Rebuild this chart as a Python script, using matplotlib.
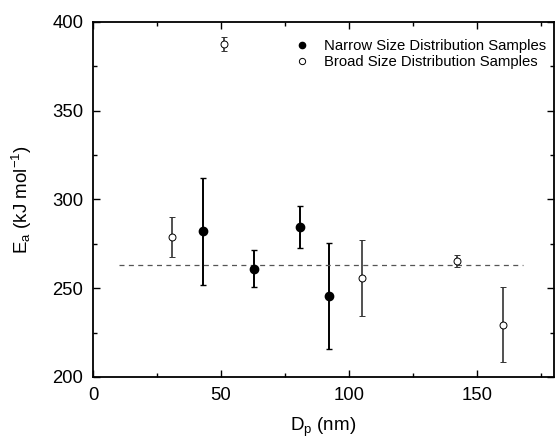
import matplotlib as mpl
import matplotlib.pyplot as plt
from matplotlib.lines import Line2D

mpl.rcParams['font.family'] = ['Liberation Sans', 'DejaVu Sans']
mpl.rcParams['mathtext.fontset'] = 'custom'
mpl.rcParams['mathtext.rm'] = 'Liberation Sans'
mpl.rcParams['mathtext.it'] = 'Liberation Sans'

# narrow size distribution samples
narrow_dp = [43, 63, 81, 92]
narrow_ea = [282, 261, 284.5, 245.5]
narrow_err = [30, 10.3, 12, 30]

# broad size distribution samples
broad_dp = [31, 51, 105, 142, 160]
broad_ea = [278.7, 387.5, 255.7, 265.4, 229.5]
broad_err = [11.3, 3.8, 21.2, 3.2, 21.2]

mean_ea = 263
mean_span = [10, 168]

fig = plt.figure(figsize=(5.55, 4.38), dpi=100)
ax = fig.add_axes([0.1676, 0.1393, 0.8306, 0.8105])

ax.errorbar(narrow_dp, narrow_ea, yerr=narrow_err, fmt='o', color='black',
            markersize=6, elinewidth=1.4, capsize=2.2, capthick=1.0)
ax.errorbar(broad_dp, broad_ea, yerr=broad_err, fmt='o', color='black',
            mfc='white', mec='black', mew=0.7, markersize=5, elinewidth=1.2,
            capsize=2.2, capthick=1.0, ecolor='#333333')
ax.plot(mean_span, [mean_ea, mean_ea], linestyle=(0, (4, 3.5)),
        color='#555555', linewidth=0.9)

ax.set_xlim(0, 180)
ax.set_ylim(200, 400)
ax.set_xticks([0, 50, 100, 150])
ax.set_xticks([25, 75, 125, 175], minor=True)
ax.set_yticks([200, 250, 300, 350, 400])
ax.set_yticks([225, 275, 325, 375], minor=True)

ax.tick_params(which='both', direction='in', top=True, right=True,
               labelsize=13.3, pad=7)
ax.tick_params(which='major', length=5, width=1.0)
ax.tick_params(which='minor', length=3, width=1.0)
for s in ax.spines.values():
    s.set_linewidth(1.3)

ax.set_xlabel('D$_\\mathrm{p}$ (nm)', fontsize=13.5, labelpad=9)
ax.set_ylabel('E$_\\mathrm{a}$ (kJ mol$^{-1}$)', fontsize=13.5, labelpad=13)

handles = [
    Line2D([], [], linestyle='none', marker='o', color='black', markersize=4.5),
    Line2D([], [], linestyle='none', marker='o', mfc='white', mec='black',
           mew=0.7, markersize=4.5),
]
labels = ['Narrow Size Distribution Samples', 'Broad Size Distribution Samples']
ax.legend(handles, labels, loc='upper right', bbox_to_anchor=(1.005, 0.98),
          frameon=False, fontsize=10.7, handlelength=1.0, handletextpad=0.95,
          labelspacing=0.1, borderaxespad=0.3)

fig.savefig('out.png', dpi=100)
